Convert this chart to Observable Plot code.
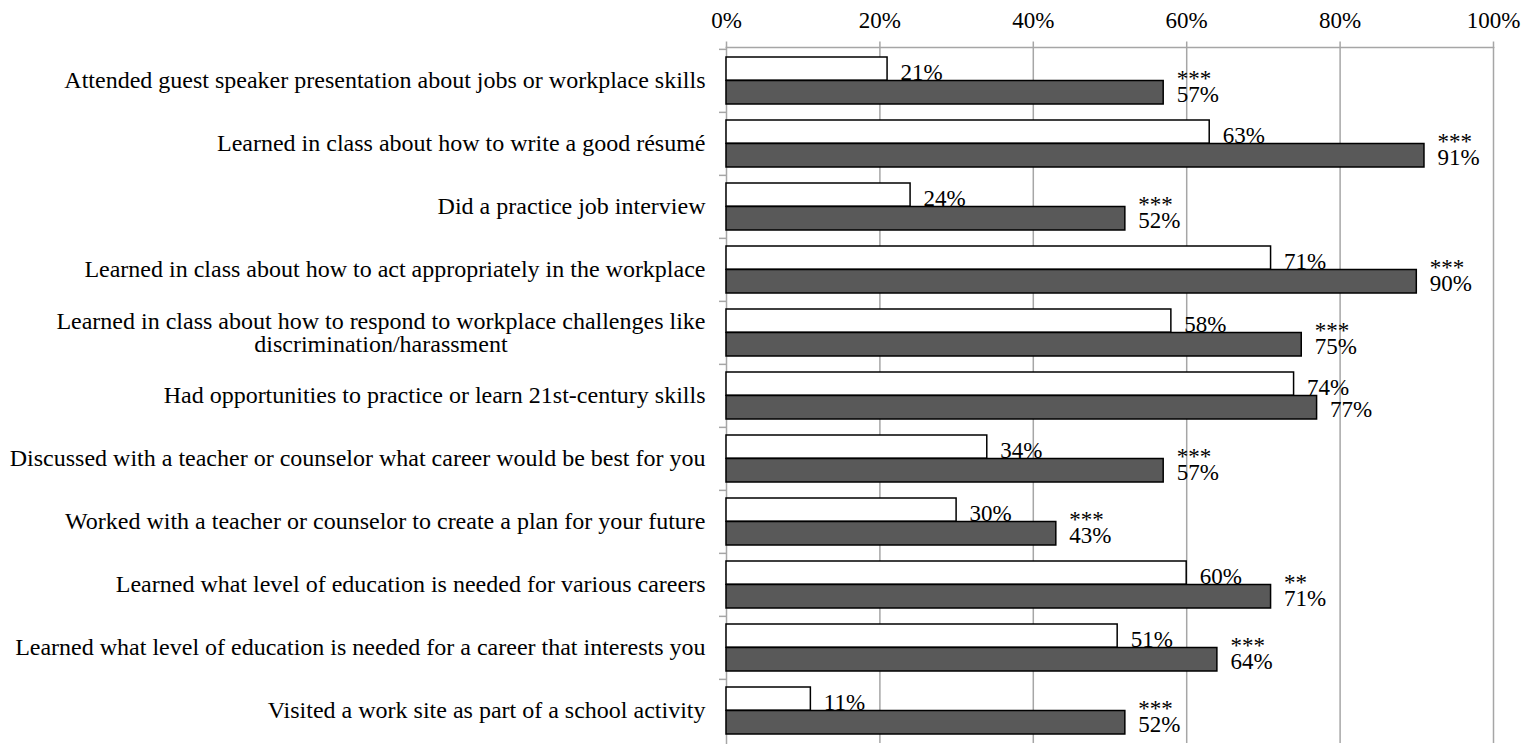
<!DOCTYPE html>
<html>
<head>
<meta charset="utf-8">
<script src="https://cdn.jsdelivr.net/npm/d3@7"></script>
<script src="https://cdn.jsdelivr.net/npm/@observablehq/plot@0.6"></script>
<style>
  html, body { margin: 0; padding: 0; background: #ffffff; }
  #chart svg { display: block; }
  #chart svg, #chart svg text { font-family: "Liberation Serif", "Times New Roman", Times, serif !important; }
</style>
</head>
<body>
<div id="chart"></div>
<script>
// ---- data ----
const categories = [
  "Attended guest speaker presentation about jobs or workplace skills",
  "Learned in class about how to write a good résumé",
  "Did a practice job interview",
  "Learned in class about how to act appropriately in the workplace",
  "Learned in class about how to respond to workplace challenges like\ndiscrimination/harassment",
  "Had opportunities to practice or learn 21st-century skills",
  "Discussed with a teacher or counselor what career would be best for you",
  "Worked with a teacher or counselor to create a plan for your future",
  "Learned what level of education is needed for various careers",
  "Learned what level of education is needed for a career that interests you",
  "Visited a work site as part of a school activity"
];
const lightValues = [21, 63, 24, 71, 58, 74, 34, 30, 60, 51, 11];
const darkValues  = [57, 91, 52, 90, 75, 77, 57, 43, 71, 64, 52];
const significance = ["***", "***", "***", "***", "***", "", "***", "***", "**", "***", "***"];
const xTicks = [0, 20, 40, 60, 80, 100];

// ---- table built from the arrays ----
const rows = categories.map((c, i) => ({
  category: c, light: lightValues[i], dark: darkValues[i], sig: significance[i]
}));

const W = 1532, H = 744;
const mTop = 47, mBottom = 1, mLeft = 726, mRight = 39;
const bw = (H - mTop - mBottom) / categories.length;
const font = "Liberation Serif";
const grey = "#a6a6a6";

const chart = Plot.plot({
  width: W,
  height: H,
  marginTop: mTop, marginBottom: mBottom, marginLeft: mLeft, marginRight: mRight,
  style: { background: "#ffffff", overflow: "visible", color: "black" },
  x: { domain: [0, 100], axis: null },
  y: { domain: categories, type: "band", padding: 0, axis: null },
  marks: [
    Plot.gridX(xTicks.filter(d => d > 0), { stroke: grey, strokeOpacity: 1, strokeWidth: 1.5 }),
    Plot.frame({ anchor: "top", stroke: grey, strokeWidth: 1.5 }),
    Plot.frame({ anchor: "left", stroke: grey, strokeWidth: 1.5 }),
    Plot.axisX({
      anchor: "top", ticks: xTicks, tickFormat: d => d + "%",
      tickSize: 6.5, tickPadding: 13.5, fontSize: 23, fontFamily: font,
      stroke: grey, strokeWidth: 1.5, fill: "black", label: null
    }),
    // band-boundary ticks on the category axis
    Plot.ruleY(categories, {
      y: d => d, x1: 0, x2: 0, insetLeft: -7, dy: -bw / 2,
      stroke: grey, strokeWidth: 1.5
    }),
    Plot.barX(rows, {
      y: "category", x: "light", fill: "#ffffff", stroke: "black", strokeWidth: 1.5,
      insetTop: 8, insetBottom: bw - 31.5
    }),
    Plot.barX(rows, {
      y: "category", x: "dark", fill: "#595959", stroke: "black", strokeWidth: 1.5,
      insetTop: 31.5, insetBottom: 8
    }),
    Plot.text(rows, {
      y: "category", x: "light", text: d => d.light + "%",
      textAnchor: "start", lineAnchor: "bottom", dx: 13, dy: -1,
      fontSize: 23, fontFamily: font, fill: "black"
    }),
    Plot.text(rows, {
      y: "category", x: "dark", text: d => d.dark + "%",
      textAnchor: "start", lineAnchor: "bottom", dx: 13, dy: 21,
      fontSize: 23, fontFamily: font, fill: "black"
    }),
    Plot.text(rows.filter(d => d.sig), {
      y: "category", x: "dark", text: "sig",
      textAnchor: "start", lineAnchor: "bottom", dx: 13, dy: 5,
      fontSize: 23, fontFamily: font, fill: "black"
    }),
    Plot.text(categories, {
      y: d => d, frameAnchor: "left", text: d => d,
      textAnchor: "end", lineAnchor: "middle", lineHeight: 0.95,
      dx: -21, fontSize: 24, fontFamily: font, fill: "black", className: "cat-labels"
    })
  ]
});

document.getElementById("chart").appendChild(chart);

// center the continuation line of wrapped category labels under the first line
chart.querySelectorAll(".cat-labels text").forEach(t => {
  const spans = t.querySelectorAll("tspan");
  if (spans.length > 1) {
    const w0 = spans[0].getComputedTextLength();
    for (let k = 1; k < spans.length; k++) {
      const wk = spans[k].getComputedTextLength();
      spans[k].setAttribute("x", -(w0 - wk) / 2);
    }
  }
});
</script>
</body>
</html>
